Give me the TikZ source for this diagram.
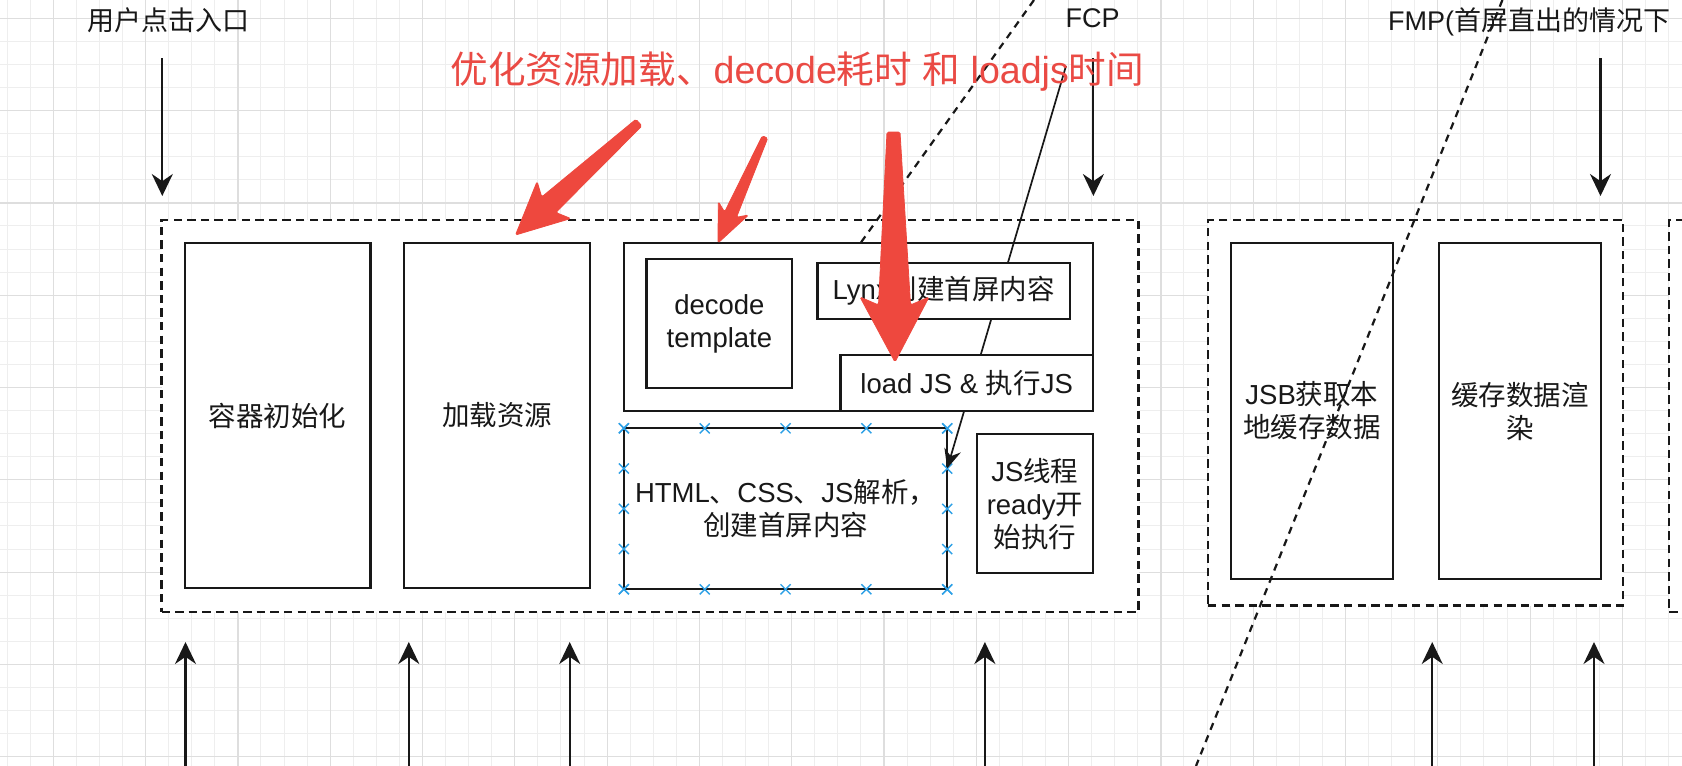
\documentclass[tikz,border=0pt]{standalone}
\usepackage{fontspec}
\setmainfont{Liberation Sans}
\newfontfamily\cjk{Noto Sans CJK SC}
\newcommand\zh[1]{{\cjk #1}}
\usetikzlibrary{arrows.meta}
\definecolor{redarrow}{RGB}{238,72,62}
\definecolor{redtext}{RGB}{234,74,68}
\definecolor{gridminor}{RGB}{238,238,238}
\definecolor{gridmajor}{RGB}{222,222,222}
\definecolor{markblue}{RGB}{45,160,230}
\definecolor{ink}{RGB}{24,24,24}
% style, name, x1, y1, x2, y2, text
\newcommand\bx[7]{\node[#1, minimum width={(#5-#3)*0.5pt}, minimum height={(#6-#4)*0.5pt}] (#2) at ({(#3+#5)/2},{(#4+#6)/2}) {#7};}
\begin{document}
\begin{tikzpicture}[x=0.5pt,y=-0.5pt,
  nbox/.style={draw=ink, line width=1.15pt, fill=white, inner sep=0pt, align=center, text=ink, font=\fontsize{13.75}{16.5}\selectfont},
  dbox/.style={draw=ink, line width=1.15pt, fill=white, inner sep=0pt, dash pattern=on 4.2pt off 2.6pt},
  dline/.style={draw=ink, line width=1.1pt, dash pattern=on 3.6pt off 3pt},
  lbl/.style={inner sep=0pt, text=ink, font=\fontsize{13.5}{16}\selectfont},
  arr/.style={draw=ink, line width=1.05pt, -{Stealth[length=11pt,width=10.5pt,inset=3.6pt]}},
  thinarr/.style={draw=ink, line width=0.85pt, -{Stealth[length=9.5pt,width=8.5pt,inset=3.2pt]}},
  bmark/.style={draw=markblue, line width=0.7pt},
  redfill/.style={fill=redarrow, draw=redarrow, line width=0.4pt, rounded corners=0.8pt}
]
\useasboundingbox (0,0) rectangle (1682,766);
\clip (0,0) rectangle (1682,766);
\fill[white] (0,0) rectangle (1682,766);
% grid
\foreach \i in {0,...,73} {\draw[gridminor, line width=0.5pt] ({7.15+23.075*\i},0) -- ++(0,766);}
\foreach \i in {0,...,34} {\draw[gridminor, line width=0.5pt] (0,{-4.775+23.075*\i}) -- ++(1682,0);}
\foreach \i in {0,...,18} {\draw[gridmajor, line width=0.6pt] ({53.3+92.3*\i},0) -- ++(0,766);}
\foreach \i in {0,...,8} {\draw[gridmajor, line width=0.6pt] (0,{18.3+92.3*\i}) -- ++(1682,0);}

% dashed groups
\bx{dbox}{grpA}{161.5}{220}{1138.5}{612}{}
\bx{dbox}{grpB}{1208}{220}{1623.3}{605.5}{}
\bx{dbox}{grpC}{1669.3}{220}{1780}{612}{}

% dashed line 1 (behind the main box)
\coordinate (d1s) at (1034,0);
\coordinate (d1e) at (852,255);
\draw[dline] (d1s) -- (d1e);

% boxes
\bx{nbox}{init}{184.7}{242.7}{370.5}{588.3}{\zh{容器初始化}}
\bx{nbox}{load}{404.1}{242.7}{590}{588.3}{\zh{加载资源}}
\bx{nbox}{main}{623.9}{243.3}{1092.8}{411}{}
\bx{nbox}{decode}{646.6}{259.3}{792.2}{387.7}{decode\\template}
\bx{nbox}{html}{623.9}{428.3}{947.2}{589.3}{HTML\zh{、}CSS\zh{、}JS\zh{解析，}\\\zh{创建首屏内容}}

% blue connection markers on the html box
\foreach \f in {0,0.25,0.5,0.75,1} {
  \draw[bmark] ({623.9+323.3*\f},428.3) ++(-5,-5) -- ++(10,10) ++(-10,0) -- ++(10,-10);
  \draw[bmark] ({623.9+323.3*\f},589.3) ++(-5,-5) -- ++(10,10) ++(-10,0) -- ++(10,-10);
  \draw[bmark] (623.9,{428.3+161*\f}) ++(-5,-5) -- ++(10,10) ++(-10,0) -- ++(10,-10);
  \draw[bmark] (947.2,{428.3+161*\f}) ++(-5,-5) -- ++(10,10) ++(-10,0) -- ++(10,-10);
}

% loadjs -> html connector
\coordinate (lsrc) at (1066,66);
\coordinate (hin) at (947.2,468.3);
\draw[thinarr] (lsrc) -- (hin);

\bx{nbox}{lynx}{817.5}{262.7}{1070}{319}{Lynx\zh{创建首屏内容}}
\bx{nbox}{loadjs}{840.6}{355}{1092.8}{411}{load JS \& \zh{执行}JS}
\bx{nbox}{jsthread}{977}{434.3}{1092.8}{573.3}{JS\zh{线程}\\ready\zh{开}\\\zh{始执行}}

\bx{nbox}{jsb}{1230.8}{242.7}{1393}{579.3}{JSB\zh{获取本}\\\zh{地缓存数据}}
\bx{nbox}{render}{1439}{242.7}{1601.3}{579.3}{\zh{缓存数据渲}\\\zh{染}}

% dashed line 2
\coordinate (d2s) at (1502.4,0);
\coordinate (d2e) at (1196,766);
\draw[dline] (d2s) -- (d2e);

% top labels and arrows
\node[lbl] (entry) at (168,20) {\zh{用户点击入口}};
\node[lbl] (fcp) at (1092.5,18.5) {FCP};
\node[lbl, anchor=west] (fmp) at (1387.7,21.7) {FMP(\zh{首屏直出的情况下}};
\coordinate (e1) at (162.3,58.3); \coordinate (e2) at (162.3,196);
\coordinate (f1) at (1093.4,58.3); \coordinate (f2) at (1093.4,196);
\coordinate (m1) at (1600.5,58.3); \coordinate (m2) at (1600.5,196);
\draw[arr] (e1) -- (e2);
\draw[arr] (f1) -- (f2);
\draw[arr] (m1) -- (m2);

% bottom upward arrows
\foreach \x [count=\k] in {185.5,408.8,569.7,984.9,1432.2,1594} {
  \coordinate (b\k s) at (\x,780);
  \coordinate (b\k e) at (\x,642);
  \draw[arr] (b\k s) -- (b\k e);
}

% red annotation
\node[inner sep=0pt, anchor=west, text=redtext, font=\fontsize{18.8}{22}\selectfont] (note) at (450,71.5)
  {\zh{优化资源加载、}decode\zh{耗时} \zh{和} loadjs\zh{时间}};
\fill[redfill] (515.5,235) -- (570.8,218.5) -- (555.8,212.5) -- (641.9,125.9) -- (635.9,119.3) -- (541.7,197.0) -- (537.1,181.5) -- cycle;
\fill[redfill] (718,243) -- (748.5,215.0) -- (736.5,217.3) -- (767.7,138.2) -- (762.3,135.8) -- (724.6,212.0) -- (718.3,201.6) -- cycle;
\fill[redfill] (895,362) -- (929,297) -- (910.5,305) -- (900,132) -- (887,132) -- (878.5,305) -- (860,297) -- cycle;
\end{tikzpicture}
\end{document}
